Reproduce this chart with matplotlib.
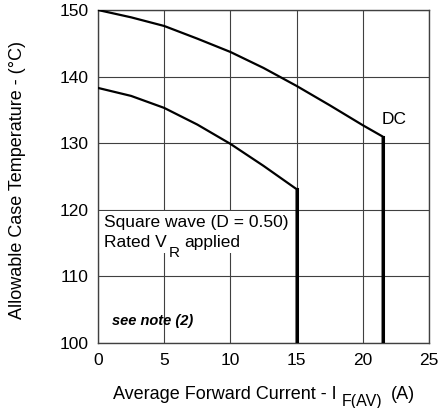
import matplotlib.pyplot as plt
from matplotlib.patches import Rectangle

plt.rcParams['font.family'] = ['Liberation Sans', 'DejaVu Sans']

# DC curve
dc_x = [0, 2.5, 5, 7.5, 10, 12.5, 15, 17.5, 20, 21.5, 21.5]
dc_y = [150, 148.9, 147.6, 145.7, 143.7, 141.3, 138.6, 135.7, 132.7, 131.0, 100]

# square wave (D = 0.50)
sq_x = [0, 2.5, 5, 7.5, 10, 12.5, 15, 15]
sq_y = [138.3, 137.1, 135.3, 132.8, 129.9, 126.6, 123.1, 100]

x_ticks = [0, 5, 10, 15, 20, 25]
y_ticks = [100, 110, 120, 130, 140, 150]

fs = 12.5
fs_lab = 13

fig = plt.figure(figsize=(4.39, 4.08), dpi=100)
ax = fig.add_axes([0.2232, 0.1593, 0.7540, 0.8162])

ax.plot(dc_x, dc_y, color='black', lw=1.6, zorder=4)
ax.plot(sq_x, sq_y, color='black', lw=1.6, zorder=4)
# vertical drops a bit heavier
ax.plot(dc_x[-2:], dc_y[-2:], color='black', lw=2.2, zorder=4)
ax.plot(sq_x[-2:], sq_y[-2:], color='black', lw=2.2, zorder=4)

ax.set_xlim(0, 25)
ax.set_ylim(100, 150)
ax.set_xticks(x_ticks)
ax.set_yticks(y_ticks)
ax.tick_params(length=0, labelsize=fs)
ax.tick_params(axis='x', pad=7)
ax.tick_params(axis='y', pad=6.5)
ax.grid(True, color='#404040', lw=0.8)
ax.set_axisbelow(True)
for s in ax.spines.values():
    s.set_color('#404040')
    s.set_linewidth(1)

fig.text(0.039, 1 - 180 / 408, 'Allowable Case Temperature - (°C)', fontsize=fs_lab,
         rotation=90, ha='center', va='center')

# x label with a lowered subscript
t1 = fig.text(113 / 439, 1 - 399 / 408, 'Average Forward Current - I', fontsize=fs_lab, va='baseline')
t2 = ax.annotate('F(AV)', xy=(1, 0), xycoords=t1, xytext=(3.5, -4),
                 textcoords='offset points', fontsize=11.5, va='bottom')
ax.annotate('(A)', xy=(1, 0), xycoords=t2, xytext=(6, 4),
            textcoords='offset points', fontsize=fs_lab, va='bottom')

# white patch behind the note text
ax.add_patch(Rectangle((0, 113.5), 14.85, 6.3, facecolor='white', edgecolor='none', zorder=1))
ax.text(0.45, 117.4, 'Square wave (D = 0.50)', fontsize=fs, va='baseline', ha='left', zorder=3)
r1 = ax.text(0.45, 114.4, 'Rated V', fontsize=fs, va='baseline', ha='left', zorder=3)
r2 = ax.annotate('R', xy=(1, 0), xycoords=r1, xytext=(1.5, -7),
                 textcoords='offset points', fontsize=11, va='bottom', zorder=3)
ax.annotate('applied', xy=(1, 0), xycoords=r2, xytext=(3, 7),
            textcoords='offset points', fontsize=fs, va='bottom', zorder=3)

ax.text(1.06, 102.7, 'see note (2)', fontsize=10.5, style='italic', weight='bold', va='baseline')
ax.text(21.45, 132.9, 'DC', fontsize=fs, va='baseline', ha='left')

fig.savefig('out.png', dpi=100)
